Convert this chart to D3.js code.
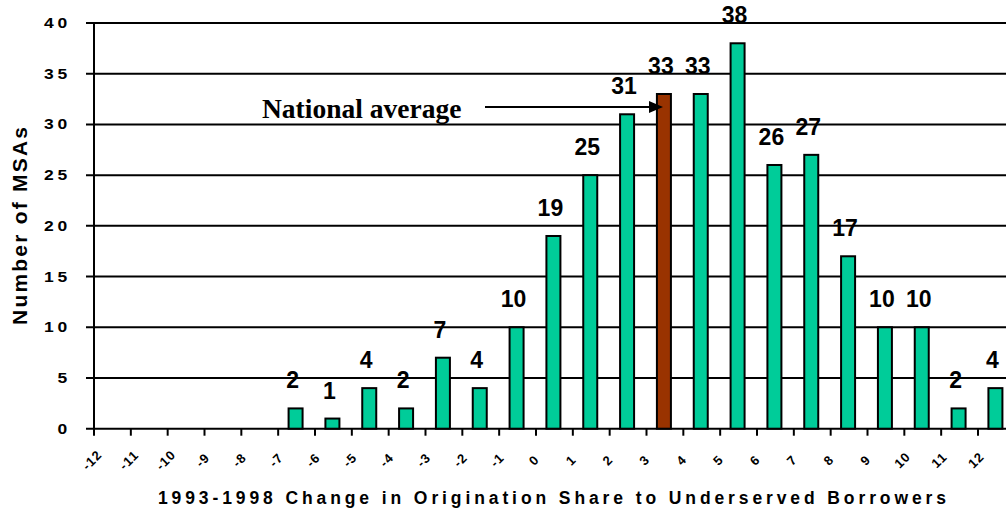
<!DOCTYPE html>
<html><head><meta charset="utf-8">
<script src="https://cdn.jsdelivr.net/npm/d3@7"></script>
<style>body{margin:0;background:#fff}svg{display:block}</style>
</head><body>
<svg id="c" width="1006" height="513"></svg>
<script>
const categories = [-12,-11,-10,-9,-8,-7,-6,-5,-4,-3,-2,-1,0,1,2,3,4,5,6,7,8,9,10,11,12];
const counts     = [0,0,0,0,0,2,1,4,2,7,4,10,19,25,31,33,33,38,26,27,17,10,10,2,4];
const highlightCategory = 3;
const yTicks = [0,5,10,15,20,25,30,35,40];
const xTickLabels = categories.map(String);
const yTitle = "Number of MSAs";
const xTitle = "1993-1998 Change in Origination Share to Underserved Borrowers";
const annotation = "National average";

const svg = d3.select("#c");
const x = d3.scaleLinear().domain([-12, 12]).range([94, 978]);
const y = d3.scaleLinear().domain([0, 40]).range([428.7, 23]);
const data = categories.map((c,i)=>({c, v: counts[i]}));
const sans = "Arial, 'Liberation Sans', sans-serif";

// gridlines
svg.append("g").selectAll("line").data(yTicks).join("line")
  .attr("x1", 86).attr("x2", 1006)
  .attr("y1", d=>y(d)).attr("y2", d=>y(d))
  .attr("stroke", "#000").attr("stroke-width", 2);

// y axis line
svg.append("line").attr("x1", 94).attr("x2", 94).attr("y1", y(40)).attr("y2", y(0))
  .attr("stroke", "#000").attr("stroke-width", 2);

// x ticks
svg.append("g").selectAll("line").data(categories).join("line")
  .attr("x1", d=>x(d)).attr("x2", d=>x(d)).attr("y1", y(0)).attr("y2", y(0)+7)
  .attr("stroke", "#000").attr("stroke-width", 2);

// y tick labels (slightly wide glyphs as in the reference)
svg.append("g").selectAll("text").data(yTicks).join("text")
  .attr("transform", d=>`translate(71,${y(d)+5}) scale(1.25,1)`)
  .attr("text-anchor", "end")
  .attr("font-family", sans)
  .attr("font-weight", "bold").attr("font-size", 14).attr("letter-spacing", 3)
  .text(d=>d);

// x tick labels
svg.append("g").selectAll("text").data(categories).join("text")
  .attr("transform", d=>`translate(${x(d)-2},${460}) rotate(-45)`)
  .attr("text-anchor", "middle").attr("dy", "0.35em")
  .attr("font-family", sans)
  .attr("font-weight", "bold").attr("font-size", 13).attr("letter-spacing", 1)
  .text((d,i)=>xTickLabels[i]);

// bars
const bw = 14;
svg.append("g").selectAll("rect").data(data.filter(d=>d.v>0)).join("rect")
  .attr("x", d=>x(d.c+0.5)-bw/2 - 1).attr("width", bw)
  .attr("y", d=>y(d.v)).attr("height", d=>y(0)-y(d.v))
  .attr("fill", d=>d.c===highlightCategory ? "#993300" : "#00CC99")
  .attr("stroke", "#000").attr("stroke-width", 2);

// value labels
svg.append("g").selectAll("text").data(data.filter(d=>d.v>0)).join("text")
  .attr("x", d=>x(d.c+0.5)-4).attr("y", d=>y(d.v)-20)
  .attr("text-anchor", "middle")
  .attr("font-family", sans)
  .attr("font-weight", "bold").attr("font-size", 23)
  .text(d=>d.v);

// annotation
svg.append("text").attr("x", 262).attr("y", 118)
  .attr("font-family", "'Times New Roman', 'Liberation Serif', serif")
  .attr("font-weight", "bold").attr("font-size", 27.5)
  .text(annotation);
const ay = 107;
svg.append("line").attr("x1", 485).attr("x2", 650).attr("y1", ay).attr("y2", ay)
  .attr("stroke", "#000").attr("stroke-width", 2);
svg.append("path").attr("d", `M649,${ay-6}L663,${ay}L649,${ay+6}Z`).attr("fill", "#000");

// axis titles
svg.append("text").attr("x", 552).attr("y", 504)
  .attr("text-anchor", "middle")
  .attr("font-family", sans)
  .attr("font-weight", "bold").attr("font-size", 17.5)
  .attr("textLength", 788).attr("lengthAdjust", "spacing")
  .text(xTitle);
svg.append("text").attr("transform", "translate(27,226) rotate(-90)")
  .attr("text-anchor", "middle")
  .attr("font-family", sans)
  .attr("font-weight", "bold").attr("font-size", 21)
  .attr("textLength", 198).attr("lengthAdjust", "spacing")
  .text(yTitle);
</script>
</body></html>
